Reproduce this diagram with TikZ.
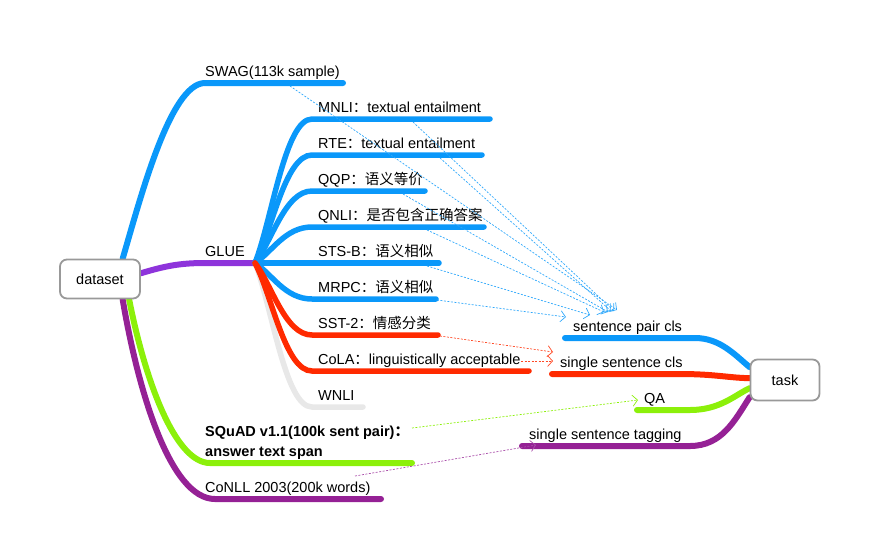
\documentclass[tikz,border=0pt]{standalone}
\usepackage{fontspec}
\setmainfont{Liberation Sans}
\newfontfamily\cjk{Noto Sans CJK SC}
\usetikzlibrary{arrows.meta}
\definecolor{mapblue}{HTML}{0A98FA}
\definecolor{mapviolet}{HTML}{8E34DB}
\definecolor{mappurple}{HTML}{952195}
\definecolor{mapgreen}{HTML}{8CF00A}
\definecolor{mapred}{HTML}{FF2A00}
\definecolor{mapgray}{HTML}{E8E8E8}
\definecolor{boxgray}{HTML}{999999}
\pgfdeclarelayer{bg}
\pgfsetlayers{bg,main}

\begin{document}
\begin{tikzpicture}[x=1pt, y=-1pt,
  every node/.style={font=\fontsize{14.5}{16}\selectfont, inner sep=0pt},
  topic/.style={anchor=base west},
  rootbox/.style={draw=boxgray, line width=1.8pt, rounded corners=7pt, fill=white, minimum width=80pt, minimum height=39pt},
  branch/.style={line width=6pt, line cap=round},
  twig/.style={line width=5.5pt, line cap=round},
  relation/.style={line width=0.7pt, dash pattern=on 2pt off 1.5pt, -{Straight Barb[length=5pt,width=11pt]}}]
  \useasboundingbox (0,0) rectangle (880,558);

  \node[rootbox] (dataset) at (100,279) {dataset};
  \node[rootbox, minimum width=69pt, minimum height=41pt] (task) at (785,380) {task};

  \node[topic] (swag) at (205,76) {SWAG(113k sample)};
  \node[topic] (glue) at (205,256) {GLUE};
  \node[topic] (mnli) at (318,112) {MNLI{\cjk ：}textual entailment};
  \node[topic] (rte) at (318,148) {RTE{\cjk ：}textual entailment};
  \node[topic] (qqp) at (318,184) {QQP{\cjk ：语义等价}};
  \node[topic] (qnli) at (318,220) {QNLI{\cjk ：是否包含正确答案}};
  \node[topic] (stsb) at (318,256) {STS-B{\cjk ：语义相似}};
  \node[topic] (mrpc) at (318,292) {MRPC{\cjk ：语义相似}};
  \node[topic] (sst) at (318,328) {SST-2{\cjk ：情感分类}};
  \node[topic] (cola) at (318,364) {CoLA{\cjk ：}linguistically acceptable};
  \node[topic] (wnli) at (318,400) {WNLI};
  \node[topic, align=left, font=\fontsize{14.5}{20}\selectfont\bfseries] (squad) at (205,456) {SQuAD v1.1(100k sent pair){\cjk ：}\\answer text span};
  \node[topic] (conll) at (205,492) {CoNLL 2003(200k words)};
  \node[topic] (paircls) at (573,331) {sentence pair cls};
  \node[topic] (singlecls) at (560,367) {single sentence cls};
  \node[topic] (qa) at (644,403) {QA};
  \node[topic] (tagging) at (529,439) {single sentence tagging};

  % underline ends
  \coordinate (swag-r) at (343,83);
  \coordinate (gluejoint) at (255,263);
  \coordinate (mnli-r) at (490,119);
  \coordinate (rte-r) at (482,155);
  \coordinate (qqp-r) at (425,191);
  \coordinate (qnli-r) at (484,227);
  \coordinate (stsb-r) at (439,263);
  \coordinate (mrpc-r) at (436,299);
  \coordinate (sst-r) at (438,335);
  \coordinate (cola-r) at (529,371);
  \coordinate (wnli-r) at (363,407);
  \coordinate (squad-r) at (412,463);
  \coordinate (conll-r) at (381,499);
  \coordinate (paircls-l) at (565,338);
  \coordinate (singlecls-l) at (552,374);
  \coordinate (qa-l) at (637,410);
  \coordinate (tagging-l) at (522,446);

  \begin{pgfonlayer}{bg}
  \draw[branch, mapblue] (dataset.42) .. controls (140,200) and (170,83) .. (205,83) -- (swag-r);
  \draw[branch, mapviolet] (dataset.8) .. controls (165,266) and (180,263) .. (205,263) -- (gluejoint);
  \draw[branch, mapgreen] (dataset.-35) .. controls (145,380) and (175,463) .. (210,463) -- (squad-r);
  \draw[branch, mappurple] (dataset.-42) .. controls (138,390) and (170,499) .. (215,499) -- (conll-r);

  \draw[twig, mapgray] (gluejoint) .. controls (272,306) and (285,407) .. (312,407) -- (wnli-r);
  \draw[twig, mapblue] (gluejoint) .. controls (272,220) and (285,119) .. (312,119) -- (mnli-r);
  \draw[twig, mapblue] (gluejoint) .. controls (272,231) and (285,155) .. (312,155) -- (rte-r);
  \draw[twig, mapblue] (gluejoint) .. controls (272,241) and (285,191) .. (312,191) -- (qqp-r);
  \draw[twig, mapblue] (gluejoint) .. controls (272,252) and (285,227) .. (312,227) -- (qnli-r);
  \draw[twig, mapblue] (gluejoint) -- (stsb-r);
  \draw[twig, mapblue] (gluejoint) .. controls (272,274) and (285,299) .. (312,299) -- (mrpc-r);
  \draw[twig, mapred] (gluejoint) .. controls (272,285) and (285,335) .. (312,335) -- (sst-r);
  \draw[twig, mapred] (gluejoint) .. controls (272,295) and (285,371) .. (312,371) -- (cola-r);

  \draw[branch, mapblue] (paircls-l) -- (695,338) .. controls (720,338) and (735,355) .. (task.160);
  \draw[branch, mapred] (singlecls-l) -- (680,374) .. controls (715,374) and (730,378) .. (task.177);
  \draw[branch, mapgreen] (qa-l) -- (690,410) .. controls (720,410) and (735,395) .. (task.193);
  \draw[branch, mappurple] (tagging-l) -- (690,446) .. controls (722,446) and (735,420) .. (task.206);
  \end{pgfonlayer}

  % relations
  \coordinate (swag-x) at (290,86);
  \coordinate (mnli-x) at (413,122);
  \coordinate (rte-x) at (440,158);
  \coordinate (qqp-x) at (403,194);
  \coordinate (qnli-x) at (427,230);
  \coordinate (stsb-x) at (427,266);
  \coordinate (mrpc-x) at (437,300);
  \coordinate (sst-x) at (440,336);
  \coordinate (cola-x) at (521,361);
  \coordinate (squad-x) at (412,428);
  \coordinate (conll-x) at (355,476);
  \draw[relation, mapblue!85] (swag-x) -- (617,310);
  \draw[relation, mapblue!85] (mnli-x) -- (614,311);
  \draw[relation, mapblue!85] (rte-x) -- (611,311);
  \draw[relation, mapblue!85] (qqp-x) -- (608,312);
  \draw[relation, mapblue!85] (qnli-x) -- (604,312);
  \draw[relation, mapblue!85] (stsb-x) -- (590,315);
  \draw[relation, mapblue!85] (mrpc-x) -- (566,317);
  \draw[relation, mapred!85] (sst-x) -- (553,352);
  \draw[relation, mapred!85] (cola-x) -- (553,361);
  \draw[relation, mapgreen] (squad-x) -- (638,400);
  \draw[relation, mappurple!80] (conll-x) -- (536,445);
\end{tikzpicture}
\end{document}
